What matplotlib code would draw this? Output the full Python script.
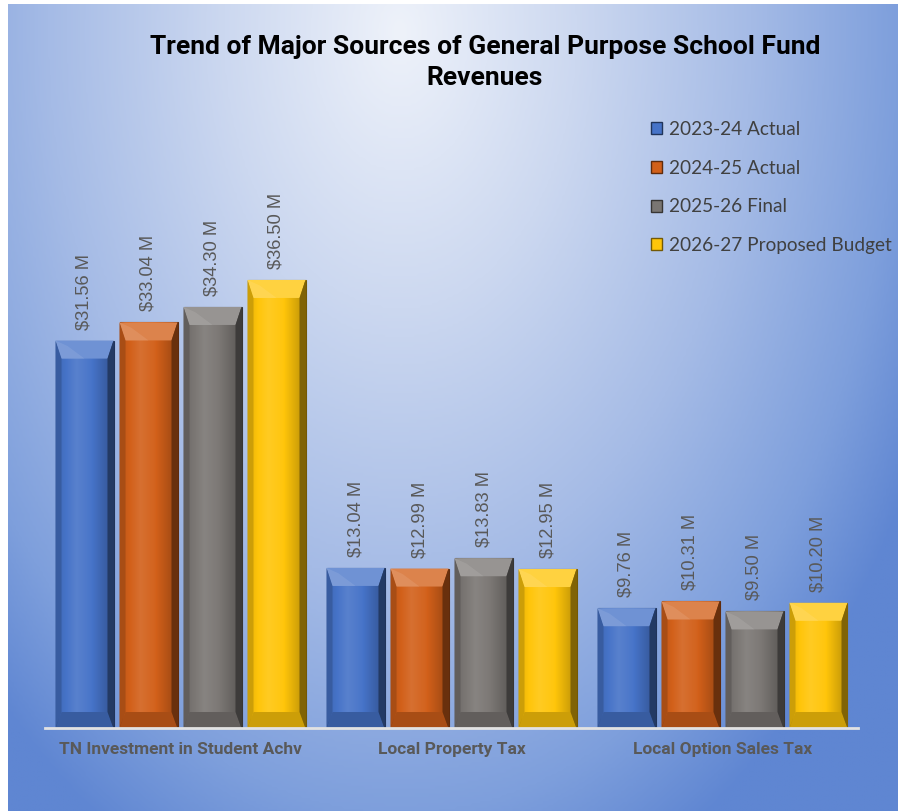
import numpy as np
import matplotlib
matplotlib.use("Agg")
import matplotlib.pyplot as plt
from matplotlib.colors import to_rgb, LinearSegmentedColormap
from matplotlib.patches import Polygon, Patch

categories = ["TN Investment in Student Achv", "Local Property Tax", "Local Option Sales Tax"]
series = ["2023-24 Actual", "2024-25 Actual", "2025-26 Final", "2026-27 Proposed Budget"]
fy2324 = [31.56, 13.04, 9.76]
fy2425 = [33.04, 12.99, 10.31]
fy2526 = [34.30, 13.83, 9.50]
fy2627 = [36.50, 12.95, 10.20]
values = [fy2324, fy2425, fy2526, fy2627]
colors = ["#4673C8", "#D2601A", "#7A7673", "#FFC50A"]

W, H = 898, 811
fig = plt.figure(figsize=(W / 100, H / 100), dpi=100, facecolor="white")

# background gradient (light top-centre, blue towards the edges)
bg = fig.add_axes([8 / W, 0, 1 - 8 / W, 1 - 4 / H], zorder=-1)
gx, gy = np.meshgrid(np.linspace(8, W, 300), np.linspace(4, H, 300))
t = np.sqrt(((gx - 400) / 560) ** 2 + ((gy - 30) / 880) ** 2)
bg_cmap = LinearSegmentedColormap.from_list(
    "bg", [(0, "#EEF2FA"), (0.3, "#CCD8F0"), (0.6, "#A5BBE6"), (0.85, "#7E9FDC"), (1.0, "#5F86D2")]
)
bg.imshow(np.clip(t / 1.05, 0, 1), cmap=bg_cmap, vmin=0, vmax=1, aspect="auto",
          extent=[0, 1, 1, 0], interpolation="bilinear")
bg.axis("off")

ax_left, ax_right, ax_base, ax_top = 45, 858, 728, 237
ax = fig.add_axes([ax_left / W, (H - ax_base) / H, (ax_right - ax_left) / W, (ax_base - ax_top) / H])
ax.patch.set_alpha(0)
ymax = 40
dx = 3 / (ax_right - ax_left)
dy = ymax / (ax_base - ax_top)

group = np.arange(len(categories))
step, width = 64 * dx, 58 * dx


def shade(c, f):
    c = np.array(to_rgb(c))
    if f >= 1:
        return tuple(np.clip(c + (1 - c) * (f - 1), 0, 1))
    return tuple(c * f)


lab_font = ["Liberation Sans", "DejaVu Sans"]
for i, (vals, col) in enumerate(zip(values, colors)):
    xs = group + (i - 1.5) * step
    bars = ax.bar(xs, vals, width, color=col, edgecolor=shade(col, 0.45), linewidth=0.8, zorder=2, label=series[i])
    for p, v in zip(bars, vals):
        x0, w, h = p.get_x(), p.get_width(), p.get_height()
        x1 = x0 + w
        u = np.linspace(0, 1, 60)
        f = np.interp(u, [0, 0.08, 0.35, 0.6, 0.9, 1], [0.6, 0.95, 1.1, 1.02, 0.8, 0.5])
        img = np.array([shade(col, k) for k in f])[None, :, :]
        im = ax.imshow(img, extent=[x0, x1, 0, h], aspect="auto", zorder=2.1, interpolation="bilinear")
        im.set_clip_path(p)
        sx, ty, by = 6 * dx, 18 * dy, 16 * dy
        ax.add_patch(Polygon([(x0, h), (x1, h), (x1 - sx, h - ty), (x0 + sx, h - ty)],
                             facecolor=shade(col, 1.22), edgecolor="none", zorder=2.2))
        ax.add_patch(Polygon([(x0, h), (x0 + sx, h - ty), ((x0 + x1) / 2, h - ty), (x0 + sx * 2, h - ty * 0.3)],
                             facecolor=shade(col, 1.4), edgecolor="none", alpha=0.4, zorder=2.25))
        ax.add_patch(Polygon([(x0, 0), (x1, 0), (x1 - sx, by), (x0 + sx, by)],
                             facecolor=shade(col, 0.8), edgecolor="none", zorder=2.2))
        ax.add_patch(Polygon([(x1, 0), (x1, h), (x1 - sx, h - ty), (x1 - sx, by)],
                             facecolor=shade(col, 0.5), edgecolor="none", zorder=2.2))
        ax.add_patch(Polygon([(x0, 0), (x0, h), (x0 + sx, h - ty), (x0 + sx, by)],
                             facecolor=shade(col, 0.8), edgecolor="none", zorder=2.2))
        ax.text(x0 + w / 2, v + 11 * dy, f"${v:.2f} M", rotation=90, ha="center", va="bottom",
                fontsize=13.2, color="#595959", family=lab_font, zorder=3)

ax.set_xlim(-0.5, 2.5)
ax.set_ylim(0, ymax)
ax.set_yticks([])
for s in ["top", "right", "left"]:
    ax.spines[s].set_visible(False)
ax.spines["bottom"].set_color("#E2E2E2")
ax.spines["bottom"].set_linewidth(2)
ax.spines["bottom"].set_zorder(4)
ax.set_xticks(group, categories)
ax.tick_params(axis="x", length=0, pad=10)
for lbl in ax.get_xticklabels():
    lbl.set_fontweight("bold")
    lbl.set_fontsize(12.5)
    lbl.set_color("#595959")
    lbl.set_family(["Roboto", "DejaVu Sans"])

fig.text(485 / W, 1 - 62.5 / H, "Trend of Major Sources of General Purpose School Fund\nRevenues",
         ha="center", va="center", fontsize=19, fontweight="bold", color="black", linespacing=1.38,
         family=["Roboto", "DejaVu Sans"])

handles = [Patch(facecolor=c, edgecolor=shade(c, 0.45)) for c in colors]
fig.legend(handles, series, loc="upper left", bbox_to_anchor=(651 / W, 1 - 121 / H), frameon=False,
           handlelength=0.6, handleheight=0.6, handletextpad=0.35, labelspacing=1.14,
           prop={"family": ["Lato", "DejaVu Sans"], "size": 13.7}, labelcolor="#404040",
           borderpad=0, borderaxespad=0)

fig.savefig("out.png", dpi=100, facecolor="white")
